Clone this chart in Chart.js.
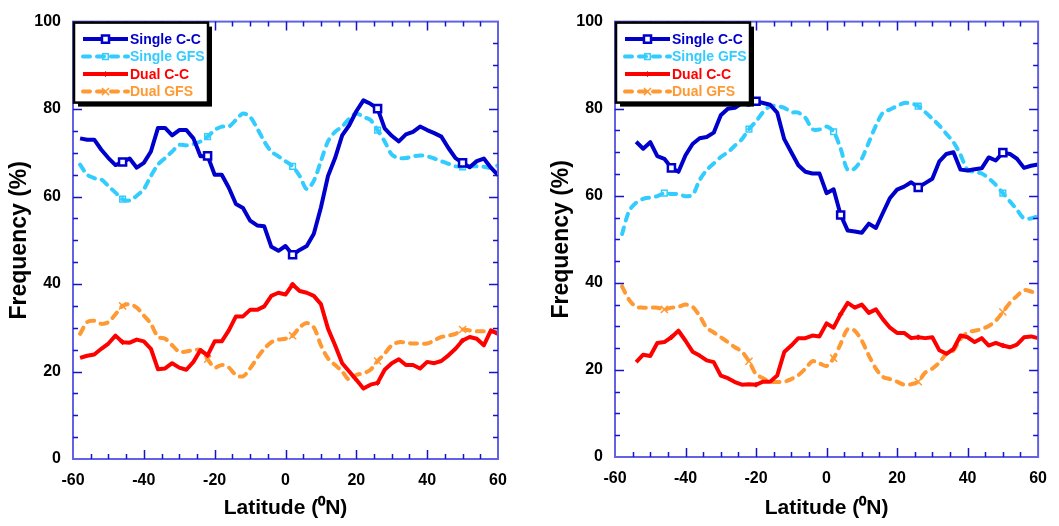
<!DOCTYPE html>
<html>
<head>
<meta charset="utf-8">
<script src="https://cdn.jsdelivr.net/npm/chart.js@4.4.1/dist/chart.umd.min.js"></script>
<style>
  html, body { margin: 0; padding: 0; background: #fff; }
  #wrap { position: relative; width: 1059px; height: 526px; }
  canvas { position: absolute; top: 0; }
  #leftChart { left: 0; }
  #rightChart { left: 530px; }
</style>
</head>
<body>
<div id="wrap">
  <canvas id="leftChart" width="530" height="526"></canvas>
  <canvas id="rightChart" width="529" height="526"></canvas>
</div>
<script>
// ---- data ----
const seriesNames = ['Single C-C', 'Single GFS', 'Dual C-C', 'Dual GFS'];
const xTicks = [-60, -40, -20, 0, 20, 40, 60];
const yTicks = [0, 20, 40, 60, 80, 100];

const latLeft = [-58,-56,-54,-52,-50,-48,-46,-44,-42,-40,-38,-36,-34,-32,-30,-28,-26,-24,-22,-20,
  -18,-16,-14,-12,-10,-8,-6,-4,-2,0,2,4,6,8,10,12,14,16,18,20,22,24,26,28,30,32,34,36,38,40,
  42,44,46,48,50,52,54,56,58,60];
const latRightCC = [-54,-52,-50,-48,-46,-44,-42,-40,-38,-36,-34,-32,-30,-28,-26,-24,-22,-20,
  -18,-16,-14,-12,-10,-8,-6,-4,-2,0,2,4,6,8,10,12,14,16,18,20,22,24,26,28,30,32,34,36,38,40,
  42,44,46,48,50,52,54,56,58,60];
const latRightGFS = latLeft;

const leftSingleCC = [73.3,73,73,70.7,68.8,67.2,67.9,68.7,66.6,67.7,70.3,75.7,75.7,74,75.2,75.2,73.3,69.2,69.3,65,
  65,62,58.3,57.4,54.5,53.4,53.2,48.5,47.6,48.7,46.7,47.8,48.7,51.5,57.5,64.7,68.8,74,76.3,79.5,
  82,81.2,80.1,75.6,73.9,72.6,74.2,74.8,76,75.2,74.5,73.7,71.1,68.8,67.7,66.7,68.1,68.7,66.6,64.9];
const leftSingleGFS = [67.3,65,64.2,63.9,62.4,60.9,59.4,59.1,60.2,61.7,64.7,67.3,68.8,70.3,71.8,71.7,72,72.6,73.7,75.2,
  76,76,77.5,79,78.2,75.6,72.6,70.3,69.2,68.1,66.9,64.7,61.7,63.6,68.1,72.6,74.8,76,77.8,79,
  78.2,77.5,75.2,72.6,69.6,68.8,68.8,69.2,69.4,69.2,68.7,68.1,67.5,66.9,66.8,66.9,66.9,66.8,66.6,67.1];
const leftDualCC = [23.1,23.6,23.9,25.2,26.4,28.2,26.7,26.6,27.3,26.9,25.2,20.5,20.7,21.9,20.9,20.4,22.2,24.9,23.7,26.9,
  26.9,29.4,32.6,32.6,34.1,34.1,34.9,37.3,38,37.6,39.9,38.4,38,37.3,35.4,29.8,26,21.9,20,18.1,
  16.1,17,17.4,20.4,21.9,22.8,21.5,21.5,20.7,22.2,21.9,22.4,23.7,25.2,27.1,27.9,27.5,26,29.4,28.6];
const leftDualGFS = [28.6,31.3,31.6,30.9,31.3,33.1,35,35.4,34.6,32.8,30.9,27.9,27.5,26,24.5,24.6,24.9,24.9,22.8,20.9,
  21.5,20.9,19.2,18.9,20.7,23.1,25.2,26.7,27.3,27.5,28.2,30.1,31.1,30.1,26,23,21.5,20,18.1,19.2,
  19.6,20.4,22.4,24.1,26,26.7,26.6,26.4,26.4,26.4,27.1,27.9,28.2,28.6,29.6,29.4,29.2,29.2,29.2,29];

const rightSingleCC = [72.4,70.8,72.3,69.1,68.5,66.4,65.5,69.3,71.9,73.2,73.5,74.5,78.5,80,80.2,81.3,80.9,81.7,
  81.3,80.9,79.1,73,70,67,65.5,65.1,65.1,60.6,61.5,55.6,52,51.8,51.5,53.6,52.6,56.1,59.5,61.4,
  62.1,63.1,61.9,62.9,63.9,67.9,69.6,70,66,65.8,66.1,66.3,68.8,68.1,69.9,69.6,68.5,66.4,66.9,67.2];
const rightSingleGFS = [51.2,56.5,58.4,59.3,59.6,59.9,60.6,60.4,60.4,59.9,60.2,63.6,65.9,67.4,68.9,70,71.5,73,75.3,77.1,
  79.2,80.6,80.6,80.2,79.2,79.1,77.9,75.3,75.2,75.9,74.7,70.8,65.9,66.3,68.5,72.3,76.1,79.1,79.8,80.6,
  81.3,81.2,80.6,79.2,77.7,76.1,74.2,72.3,69.4,65.9,65.5,65.1,64,62.5,60.6,58.7,56.8,54.8,54.8,55.3];
const rightDualCC = [21.8,23.5,23.2,26.2,26.4,27.5,29,26.7,24.2,23.3,22.2,21.8,18.7,18.1,17.2,16.6,16.7,16.6,
  17.3,17.3,18.7,24.1,25.6,27.3,27.3,27.9,27.7,30.7,29.7,32.8,35.4,34.3,35,33.1,33.9,31.6,29.7,28.5,
  28.5,27.3,27.5,27.3,27.5,24.5,23.7,24.8,27.9,27.5,26.4,27.3,25.6,26.2,25.6,25.2,25.8,27.5,27.7,27.3];
const rightDualGFS = [39.2,36.1,34.5,34.3,34.3,34.3,33.9,34.3,34.5,35,34.5,32.4,29.7,28.6,27.5,26.4,25.2,24.2,22,19,
  18.1,17.3,17.2,17.3,17.9,18.8,20.3,22,21.5,20.9,22.7,26,29.4,29,26.7,23.3,20.3,18.4,17.9,17.3,
  16.6,16.7,17.3,19.4,20.3,21.7,23.7,24.5,27.1,28.6,29,29.4,30.1,31.3,33.3,35.4,37,38.3,38,37.5];

// latitudes where symbols are drawn on each curve
const marksLeft = [-46, -22, 2, 26, 50];
const marksRightCC = [-44, -20, 4, 26, 50];
const marksRightGFS = [-46, -22, 2, 26, 50];

// ---- styles ----
const COLORS = ['#0000cc', '#33ccff', '#ff0000', '#ff9933'];
const FONT = 'Arial, "Liberation Sans", Helvetica, sans-serif';

function pairs(lats, vals) {
  return vals.map((v, i) => ({ x: lats[i], y: v }));
}

function makeSet(idx, lats, vals, marks) {
  const dashed = idx % 2 === 1;
  const styles = [
    { pointStyle: 'rect', radius: 5, bg: '#ffffff', bw: 2.5 },
    { pointStyle: 'rect', radius: 4, bg: 'rgba(255,255,255,0)', bw: 1.5 },
    { pointStyle: 'rectRot', radius: 2.5, bg: '#ff0000', bw: 1 },
    { pointStyle: 'crossRot', radius: 5, bg: '#ff9933', bw: 1.5 }
  ][idx];
  return {
    label: seriesNames[idx],
    data: pairs(lats, vals),
    borderColor: COLORS[idx],
    backgroundColor: styles.bg,
    borderWidth: 4,
    borderDash: dashed ? [7, 7] : [],
    borderCapStyle: dashed ? 'round' : 'butt',
    borderJoinStyle: 'round',
    tension: dashed ? 0.3 : 0,
    pointStyle: styles.pointStyle,
    pointBorderWidth: styles.bw,
    pointBorderColor: COLORS[idx],
    pointBackgroundColor: styles.bg,
    pointRadius: c => (c.raw && marks.includes(c.raw.x)) ? styles.radius : 0,
    legendRadius: styles.radius
  };
}

// frame with inward ticks on all four sides, then the boxed legend
const framePlugin = {
  id: 'frameLegend',
  afterDatasetsDraw(chart) {
    const { ctx, chartArea: a, scales: { x, y } } = chart;
    ctx.save();
    ctx.strokeStyle = '#6262e6';
    ctx.lineWidth = 2;
    ctx.strokeRect(a.left, a.top, a.right - a.left, a.bottom - a.top);

    ctx.strokeStyle = '#1414c8';
    ctx.lineWidth = 1.5;
    ctx.beginPath();
    for (let v = -55; v < 60; v += 5) {
      const px = Math.round(x.getPixelForValue(v)) + 0.5;
      const len = v % 20 === 0 ? 9 : 5;
      ctx.moveTo(px, a.bottom); ctx.lineTo(px, a.bottom - len);
      ctx.moveTo(px, a.top); ctx.lineTo(px, a.top + len);
    }
    for (let v = 5; v < 100; v += 5) {
      const py = Math.round(y.getPixelForValue(v)) + 0.5;
      const len = v % 20 === 0 ? 9 : 5;
      ctx.moveTo(a.left, py); ctx.lineTo(a.left + len, py);
      ctx.moveTo(a.right, py); ctx.lineTo(a.right - len, py);
    }
    ctx.stroke();

    // legend box
    const bx = a.left + 1, by = a.top + 1, bw = 134, bh = 80;
    ctx.fillStyle = '#000';
    ctx.fillRect(bx + 4, by + 4, bw, bh);
    ctx.fillStyle = '#fff';
    ctx.fillRect(bx, by, bw, bh);
    ctx.strokeStyle = '#000';
    ctx.lineWidth = 2.5;
    ctx.strokeRect(bx, by, bw, bh);

    ctx.font = 'bold 14px ' + FONT;
    ctx.textBaseline = 'middle';
    ctx.textAlign = 'left';
    chart.data.datasets.forEach((ds, i) => {
      const ry = by + 16.5 + i * 17.5;
      const x0 = bx + 9, x1 = bx + 54;
      ctx.strokeStyle = ds.borderColor;
      ctx.lineWidth = 4;
      ctx.lineCap = ds.borderCapStyle;
      ctx.setLineDash(ds.borderDash);
      ctx.beginPath();
      ctx.moveTo(x0, ry); ctx.lineTo(x1, ry);
      ctx.stroke();
      ctx.setLineDash([]);
      ctx.lineCap = 'butt';
      ctx.fillStyle = ds.pointBackgroundColor;
      ctx.strokeStyle = ds.pointBorderColor;
      ctx.lineWidth = ds.pointBorderWidth;
      Chart.helpers.drawPoint(ctx, { pointStyle: ds.pointStyle, radius: ds.legendRadius, rotation: 0, borderWidth: ds.pointBorderWidth }, (x0 + x1) / 2, ry);
      ctx.fillStyle = ds.borderColor;
      ctx.fillText(ds.label, bx + 56, ry + 1);
    });
    ctx.restore();
  }
};

function makeChart(id, sets, yAxisW, xAxisH, pad, yTitlePad) {
  return new Chart(document.getElementById(id), {
    type: 'line',
    data: { datasets: sets },
    plugins: [framePlugin],
    options: {
      responsive: false,
      animation: false,
      devicePixelRatio: 1,
      events: [],
      layout: { padding: pad },
      plugins: { legend: { display: false }, tooltip: { enabled: false } },
      scales: {
        x: {
          type: 'linear', min: xTicks[0], max: xTicks[xTicks.length - 1],
          afterBuildTicks: s => { s.ticks = xTicks.map(v => ({ value: v })); },
          afterFit: s => { s.height = xAxisH; },
          grid: { display: false, drawTicks: false },
          border: { display: false },
          ticks: { color: '#000', padding: 12, font: { family: FONT, size: 16, weight: 'bold' } },
          title: {
            display: true, text: 'Latitude (\u2070N)', color: '#000',
            font: { family: FONT, size: 21, weight: 'bold' }, padding: { top: 0, bottom: 5 }
          }
        },
        y: {
          min: yTicks[0], max: yTicks[yTicks.length - 1],
          afterBuildTicks: s => { s.ticks = yTicks.map(v => ({ value: v })); },
          afterFit: s => { s.width = yAxisW; },
          grid: { display: false, drawTicks: false },
          border: { display: false },
          ticks: { color: '#000', padding: 12, font: { family: FONT, size: 16, weight: 'bold' } },
          title: {
            display: true, text: 'Frequency (%)', color: '#000',
            font: { family: FONT, size: 23, weight: 'bold' }, padding: { top: yTitlePad, bottom: 0 }
          }
        }
      }
    }
  });
}

makeChart('leftChart', [
  makeSet(0, latLeft, leftSingleCC, marksLeft),
  makeSet(1, latLeft, leftSingleGFS, marksLeft),
  makeSet(2, latLeft, leftDualCC, marksLeft),
  makeSet(3, latLeft, leftDualGFS, marksLeft)
], 73, 67, { top: 15, right: 32, left: 0, bottom: 0 }, 6);

makeChart('rightChart', [
  makeSet(0, latRightCC, rightSingleCC, marksRightCC),
  makeSet(1, latRightGFS, rightSingleGFS, marksRightGFS),
  makeSet(2, latRightCC, rightDualCC, marksRightCC),
  makeSet(3, latRightGFS, rightDualGFS, marksRightGFS)
], 85, 69, { top: 14, right: 18, left: 0, bottom: 0 }, 18);
</script>
</body>
</html>
